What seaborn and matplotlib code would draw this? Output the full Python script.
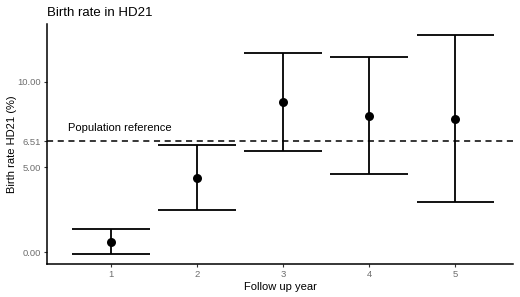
import matplotlib
matplotlib.use("Agg")
import matplotlib.pyplot as plt
import seaborn as sns
import pandas as pd

# values
years = [1, 2, 3, 4, 5]
rate = [0.60, 4.37, 8.82, 8.00, 7.84]
ci_low = [-0.10, 2.45, 5.94, 4.57, 2.92]
ci_high = [1.33, 6.29, 11.70, 11.45, 12.78]
pop_ref = 6.51
y_ticks = [0.00, 5.00, 6.51, 10.00]

df = pd.DataFrame({"year": years, "rate": rate, "lo": ci_low, "hi": ci_high})

sns.set_theme(style="white")
plt.rcParams['font.family'] = ['Liberation Sans', 'DejaVu Sans']

fig = plt.figure(figsize=(5.2, 2.97), dpi=100)
ax = fig.add_axes([0.0904, 0.111, 0.8961, 0.808])

# error bars: stems and caps (cap width 0.9 like ggplot)
ax.vlines(df["year"], df["lo"], df["hi"], color="black", linewidth=1.3, zorder=2)
ax.hlines(df["lo"], df["year"] - 0.45, df["year"] + 0.45, color="black", linewidth=1.3, zorder=2)
ax.hlines(df["hi"], df["year"] - 0.45, df["year"] + 0.45, color="black", linewidth=1.3, zorder=2)

sns.scatterplot(data=df, x="year", y="rate", ax=ax, color="black", s=42,
                edgecolor="black", linewidth=0, zorder=3)

ax.axhline(pop_ref, color="black", linestyle=(0, (4, 3)), linewidth=1.1, zorder=1)
ax.text(1.1, 7.3, "Population reference", ha="center", va="center", fontsize=8, color="black")

ax.set_xlim(0.26, 5.67)
ax.set_ylim(-0.7, 13.4)
ax.set_xticks(years)
ax.set_yticks(y_ticks)
ax.set_yticklabels([f"{v:.2f}" for v in y_ticks])
ax.tick_params(axis="both", labelsize=6.8, labelcolor="#6e6e6e", length=2.5, width=0.8,
               color="#333333", pad=2, bottom=True, left=True)

ax.set_xlabel("Follow up year", fontsize=8, color="black", labelpad=2)
ax.set_ylabel("Birth rate HD21 (%)", fontsize=8, color="black", labelpad=0)
ax.set_title("Birth rate in HD21", fontsize=9.5, loc="left", color="black", pad=6)

sns.despine(ax=ax)
for s in ["left", "bottom"]:
    ax.spines[s].set_color("black")
    ax.spines[s].set_linewidth(1.1)
ax.grid(False)

fig.savefig("out.png", dpi=100)
